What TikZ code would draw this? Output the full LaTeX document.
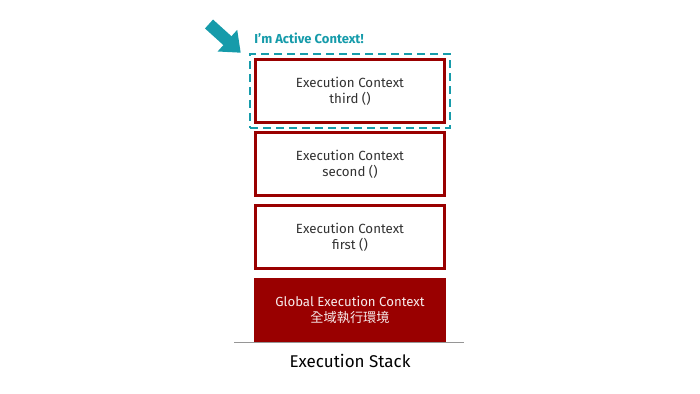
\documentclass[tikz,border=0pt]{standalone}
\usepackage{fontspec}
\setmainfont{Fira Sans}
\newfontfamily\cjk{Noto Sans CJK TC}
\usetikzlibrary{arrows.meta, positioning, fit}
\definecolor{red1}{RGB}{153, 0, 0}
\definecolor{teal1}{RGB}{22, 155, 170}
\definecolor{gray1}{RGB}{150, 150, 150}
\definecolor{text1}{RGB}{50, 50, 50}

\begin{document}
\begin{tikzpicture}[
    x=1pt, y=-1pt,
    ctxbox/.style={
      rectangle, draw=red1, line width=3pt, fill=white,
      minimum width=189pt, minimum height=63pt,
      font=\fontsize{13.3}{16}\selectfont, text=text1, align=center
    },
    globalbox/.style={
      rectangle, fill=red1, minimum width=192pt, minimum height=64pt,
      font=\fontsize{13.2}{16}\selectfont, text=red1!8, align=center
    },
    activebox/.style={draw=teal1, line width=2.5pt, dash pattern=on 8pt off 5pt, inner sep=4pt},
    pointer/.style={-{Triangle[length=18pt, width=28pt]}, line width=12pt, teal1},
  ]
  \useasboundingbox (0,0) rectangle (700,393);

  % Stack
  \node[ctxbox] (third) at (350, 91) {Execution Context\\third ()};
  \node[ctxbox, below=7pt of third] (second) {Execution Context\\second ()};
  \node[ctxbox, below=7pt of second] (first) {Execution Context\\first ()};
  \node[globalbox, below=8pt of first] (global) {Global Execution Context\\{\cjk 全域執行環境}};

  % Floor
  \coordinate (floorL) at ([xshift=-116pt]global.south);
  \coordinate (floorR) at ([xshift=114pt]global.south);
  \draw[gray1, line width=1.5pt] (floorL) -- (floorR);
  \node[font=\fontsize{17}{20}\selectfont, text=black, below=8pt of global] (stack) {Execution Stack};

  % Active context
  \node[activebox, fit=(third)] (active) {};
  \node[font=\fontsize{13}{15}\selectfont\bfseries, text=teal1, above right=5pt and 2pt of active.north west] (tag) {I'm Active Context!};
  \coordinate (tail) at (209, 24);
  \coordinate (tip) at ([xshift=-8pt]active.north west);
  \draw[pointer] (tail) -- (tip);

\end{tikzpicture}
\end{document}
